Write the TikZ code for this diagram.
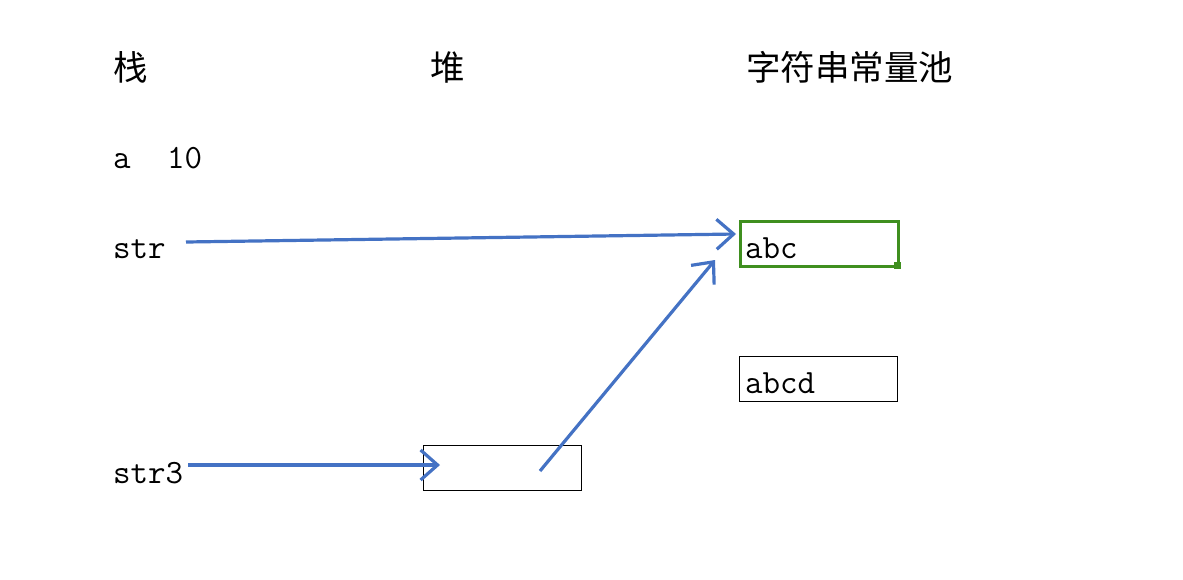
\documentclass[tikz,border=0pt]{standalone}
\usepackage{fontspec}
\newfontfamily\cjk{Noto Sans CJK SC}
\usetikzlibrary{arrows.meta}
\definecolor{arrowblue}{HTML}{4472C4}
\definecolor{boxgreen}{HTML}{3F8F1F}
\tikzset{
  heading/.style={anchor=west, inner sep=0pt, font=\cjk\fontsize{34.5}{38}\selectfont},
  label/.style={anchor=base west, inner sep=0pt, font=\ttfamily\fontsize{34}{38}\selectfont},
  memcell/.style={draw=black, line width=1.2pt, minimum width=158pt, minimum height=45pt, anchor=north west, inner sep=0pt},
  ptr/.style={draw=arrowblue, line width=3.2pt, -{Straight Barb[length=17pt,width=30pt,line width=3.2pt]}}
}
\begin{document}
\begin{tikzpicture}[x=1pt,y=-1pt]
\useasboundingbox[fill=white] (0,0) rectangle (1183,579);
% headings
\node[heading] (stack) at (113,67) {栈};
\node[heading] (heap) at (430,67) {堆};
\node[heading] (pool) at (746,67) {字符串常量池};
% stack entries
\node[label] (a) at (113,168) {a};
\node[label] (ten) at (167,168) {10};
\node[label] (str) at (113,258) {str};
\node[label] (strthree) at (113,483) {str3};
% boxes
\node[memcell, draw=boxgreen, line width=3pt] (abc) at (739,220) {};
\node[label] (abctext) at (745,258) {abc};
\fill[boxgreen] (894,262) rectangle (901,269);
\node[memcell] (abcd) at (739,356) {};
\node[label] (abcdtext) at (745,393) {abcd};
\node[memcell] (heapbox) at (423,445) {};
% arrow endpoints
\coordinate (strstart) at (186,242);
\coordinate (abcin) at (736,234);
\coordinate (strthreestart) at (188,465);
\coordinate (heapin) at (440,465);
\coordinate (heapout) at (540,471);
\coordinate (abcbelow) at (715,260);
% pointers
\draw[ptr] (strstart) -- (abcin);
\draw[ptr] (strthreestart) -- (heapin);
\draw[ptr] (heapout) -- (abcbelow);
\end{tikzpicture}
\end{document}
